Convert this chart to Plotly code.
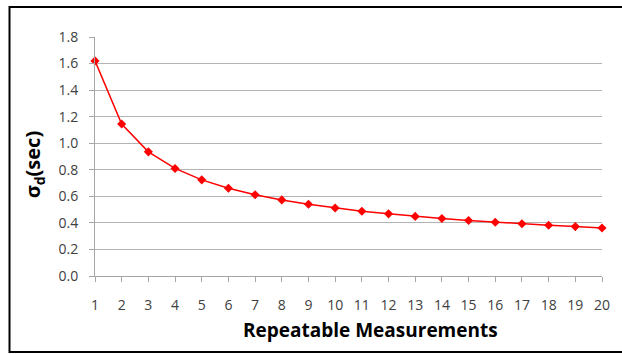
import plotly.graph_objects as go

measurements = list(range(1, 21))
sigma_d = [1.62, 1.145, 0.935, 0.81, 0.724, 0.661, 0.612, 0.573, 0.54, 0.512,
           0.488, 0.468, 0.449, 0.433, 0.418, 0.405, 0.393, 0.382, 0.372, 0.362]
y_ticks = [0.0, 0.2, 0.4, 0.6, 0.8, 1.0, 1.2, 1.4, 1.6, 1.8]

W, H = 622, 354
L, R, T, B = 95, 17, 37, 78
pw, ph = W - L - R, H - T - B

def px_x(p):
    return (p - L) / pw

def px_y(p):
    return (H - B - p) / ph

fig = go.Figure()
fig.add_trace(go.Scatter(
    x=measurements, y=sigma_d, mode="lines+markers",
    line=dict(color="#ff0000", width=1.5),
    marker=dict(symbol="diamond", size=7, color="#ff0000"),
    showlegend=False, cliponaxis=False,
))

fam = "'Open Sans', sans-serif"
fig.update_layout(
    width=W, height=H,
    margin=dict(l=L, r=R, t=T, b=B),
    paper_bgcolor="white", plot_bgcolor="white",
    font=dict(family=fam, color="#404040"),
    xaxis=dict(
        range=[1, 20], tickmode="array", tickvals=measurements,
        ticktext=[str(m) for m in measurements],
        showgrid=False, zeroline=False,
        showline=True, linecolor="#a6a6a6", linewidth=1,
        ticks="outside", ticklen=5, tickcolor="#a6a6a6",
        ticklabelstandoff=11,
        tickfont=dict(family=fam, size=14, color="#404040"),
    ),
    yaxis=dict(
        range=[0, 1.8], tickmode="array", tickvals=y_ticks,
        ticktext=[f"{v:.1f}" for v in y_ticks],
        showgrid=True, gridcolor="#b3b3b3", gridwidth=1, zeroline=False,
        showline=True, linecolor="#a6a6a6", linewidth=1,
        ticks="outside", ticklen=5, tickcolor="#a6a6a6",
        ticklabelstandoff=8,
        tickfont=dict(family=fam, size=14, color="#404040"),
    ),
    annotations=[
        dict(text="<b>Repeatable Measurements</b>", xref="paper", yref="paper",
             x=px_x(372), y=px_y(330), xanchor="center", yanchor="middle",
             showarrow=False, font=dict(family=fam, size=19, color="#000000")),
        dict(text="<b>σ<sub>d</sub>(sec)</b>", xref="paper", yref="paper",
             x=px_x(33), y=px_y(164), xanchor="center", yanchor="middle",
             textangle=-90, showarrow=False,
             font=dict(family=fam, size=20, color="#000000")),
    ],
    shapes=[dict(
        type="rect", xref="paper", yref="paper",
        x0=px_x(9), x1=px_x(630), y0=px_y(352), y1=px_y(7),
        line=dict(color="#000000", width=2), fillcolor="rgba(0,0,0,0)",
        layer="above",
    )],
)

fig.write_html("out.html")
